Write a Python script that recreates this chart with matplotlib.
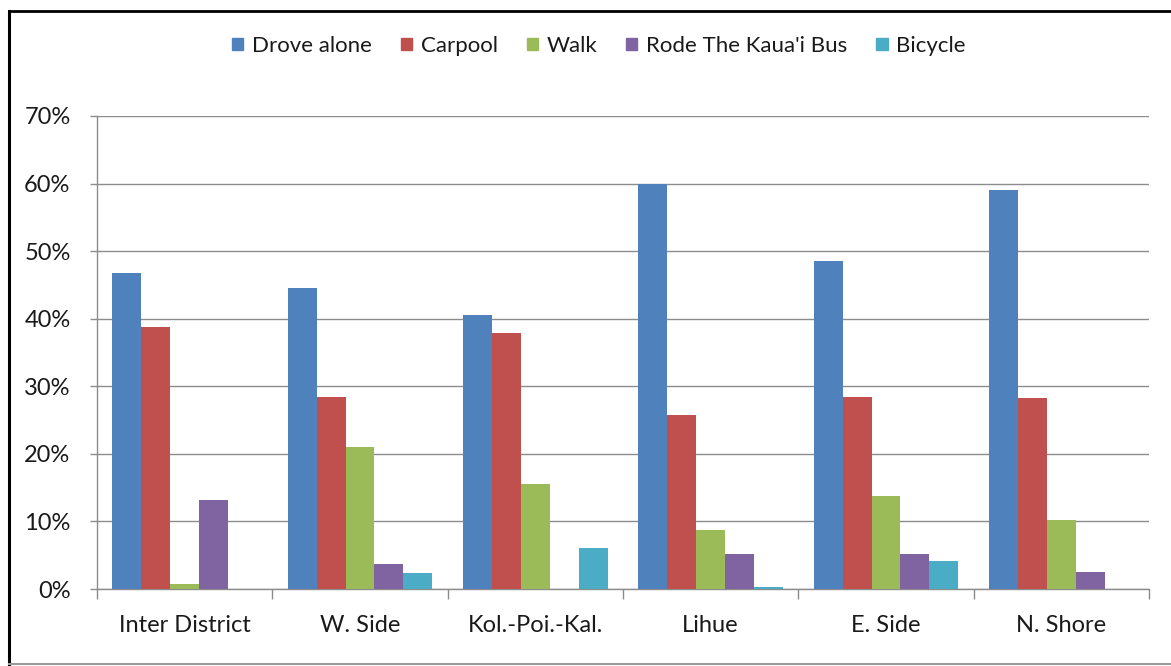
import matplotlib
matplotlib.use("Agg")
import matplotlib.pyplot as plt
import numpy as np
from matplotlib.lines import Line2D
from matplotlib.ticker import FixedLocator, PercentFormatter

plt.rcParams['font.family'] = ['Lato', 'DejaVu Sans']

categories = ["Inter District", "W. Side", "Kol.-Poi.-Kal.", "Lihue", "E. Side", "N. Shore"]
series_names = ["Drove alone", "Carpool", "Walk", "Rode The Kaua'i Bus", "Bicycle"]
drove_alone = [46.8, 44.5, 40.5, 60.0, 48.5, 59.0]
carpool = [38.8, 28.4, 37.9, 25.8, 28.4, 28.2]
walk = [0.8, 21.0, 15.6, 8.7, 13.7, 10.2]
rode_bus = [13.2, 3.7, 0.0, 5.2, 5.2, 2.5]
bicycle = [0.0, 2.4, 6.0, 0.3, 4.1, 0.0]
colors = ["#4F81BD", "#C0504D", "#9BBB59", "#8064A2", "#4BACC6"]

series = [drove_alone, carpool, walk, rode_bus, bicycle]

fig = plt.figure(figsize=(11.71, 6.66), dpi=100)
ax = fig.add_axes([97/1171, 1-589/666, (1149-97)/1171, (589-116)/666])

x = np.arange(len(categories))
w = 0.165
for i, (vals, name, c) in enumerate(zip(series, series_names, colors)):
    ax.bar(x + (i-2)*w, vals, width=w, color=c, label=name, zorder=3, linewidth=0)

ax.set_xlim(-0.5, len(categories)-0.5)
ax.set_ylim(0, 70)
ax.set_yticks(np.arange(0, 71, 10))
ax.yaxis.set_major_formatter(PercentFormatter(decimals=0))
ax.grid(axis='y', color='#8c8c8c', linewidth=1.0, zorder=0)
ax.set_axisbelow(True)

ax.set_xticks(x)
ax.set_xticklabels(categories)
ax.xaxis.set_minor_locator(FixedLocator(np.arange(-0.5, len(categories), 1.0)))
ax.tick_params(axis='x', which='major', length=0, pad=19, labelsize=17, labelcolor='#1a1a1a')
ax.tick_params(axis='x', which='minor', length=7, color='#8c8c8c', width=1)
ax.tick_params(axis='y', length=5, color='#8c8c8c', width=1, pad=14, labelsize=17, labelcolor='#1a1a1a')
for s in ['top', 'right']:
    ax.spines[s].set_visible(False)
for s in ['left', 'bottom']:
    ax.spines[s].set_color('#8c8c8c')
    ax.spines[s].set_linewidth(1)

handles = [plt.Rectangle((0, 0), 1, 1, color=c) for c in colors]
fig.legend(handles, series_names, loc='center', bbox_to_anchor=(0.5115, 1-46/666), ncol=5,
           frameon=False, fontsize=16, handlelength=0.5, handleheight=0.5,
           handletextpad=0.4, columnspacing=1.3, labelcolor='#1a1a1a')

# frame lines
fig.add_artist(Line2D([9/1171, 1], [1-10.5/666, 1-10.5/666], color='black', linewidth=2, transform=fig.transFigure))
fig.add_artist(Line2D([9/1171, 9/1171], [1-10.5/666, 0], color='black', linewidth=2.2, transform=fig.transFigure))
fig.add_artist(Line2D([9/1171, 1], [1-664/666, 1-664/666], color='#999999', linewidth=1.5, transform=fig.transFigure))

fig.savefig("out.png", dpi=100)
